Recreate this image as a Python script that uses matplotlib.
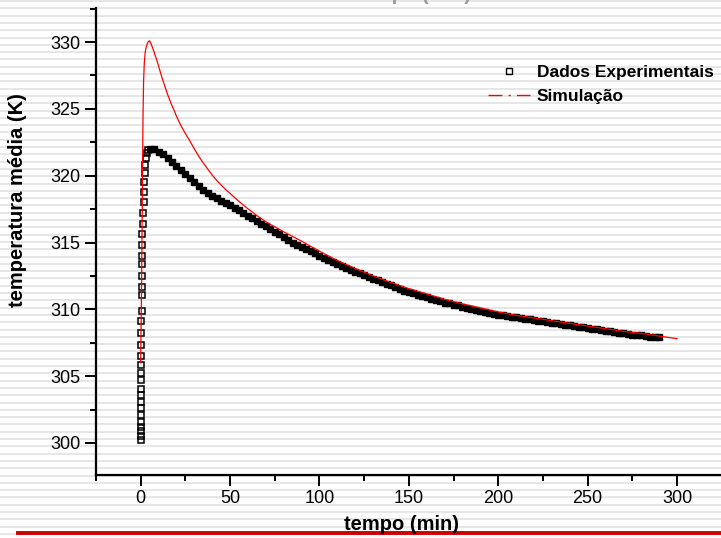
import numpy as np
import matplotlib.pyplot as plt
from matplotlib.lines import Line2D
from matplotlib.ticker import MultipleLocator

plt.rcParams['font.family'] = ['Liberation Sans', 'DejaVu Sans']

# dados experimentais (tempo em min, temperatura em K)
# subida inicial (pontos bem espacados)
t_sub = [0.0, 0.0, 0.0, 0.05, 0.05, 0.1, 0.1, 0.15, 0.15, 0.2,
         0.2, 0.25, 0.3, 0.3, 0.35, 0.4, 0.45, 0.5, 0.55, 0.6,
         0.65, 0.7, 0.8, 0.9, 1.0, 1.2, 1.4, 1.6, 1.8, 2.0,
         2.3, 2.6, 3.0, 3.5, 4.0]
T_sub = [300.2, 300.5, 300.9, 301.2, 301.6, 302.1, 302.6, 303.1, 303.6, 304.0,
         304.7, 305.2, 305.8, 306.5, 307.3, 308.2, 309.1, 309.9, 311.1, 311.7,
         312.5, 313.4, 314.0, 314.8, 315.6, 316.4, 317.2, 318.0, 318.8, 319.5,
         320.2, 320.8, 321.3, 321.7, 321.9]
# resfriamento (pontos densos)
t_res = [5.0, 7.5, 10.0, 12.5, 15.0, 17.5, 20.0, 22.5, 25.0, 27.5,
         30.0, 32.5, 35.0, 37.5, 40.0, 42.5, 45.0, 47.5, 50.0, 52.5,
         55.0, 57.5, 60.0, 62.5, 65.0, 67.5, 70.0, 72.5, 75.0, 77.5,
         80.0, 82.5, 85.0, 87.5, 90.0, 92.5, 95.0, 97.5, 100.0, 102.5,
         105.0, 107.5, 110.0, 112.5, 115.0, 117.5, 120.0, 122.5, 125.0, 127.5,
         130.0, 132.5, 135.0, 137.5, 140.0, 142.5, 145.0, 147.5, 150.0, 152.5,
         155.0, 157.5, 160.0, 162.5, 165.0, 167.5, 170.0, 172.5, 175.0, 177.5,
         180.0, 182.5, 185.0, 187.5, 190.0, 192.5, 195.0, 197.5, 200.0, 202.5,
         205.0, 207.5, 210.0, 212.5, 215.0, 217.5, 220.0, 222.5, 225.0, 227.5,
         230.0, 232.5, 235.0, 237.5, 240.0, 242.5, 245.0, 247.5, 250.0, 252.5,
         255.0, 257.5, 260.0, 262.5, 265.0, 267.5, 270.0, 272.5, 275.0, 277.5,
         280.0, 282.5, 285.0, 287.5, 290.0]
T_res = [322.0, 322.0, 321.8, 321.6, 321.3, 321.0, 320.7, 320.4, 320.1, 319.8,
         319.5, 319.2, 318.9, 318.7, 318.5, 318.3, 318.1, 317.95, 317.8, 317.6,
         317.4, 317.2, 317.0, 316.8, 316.6, 316.4, 316.2, 316.0, 315.8, 315.6,
         315.4, 315.2, 315.0, 314.85, 314.7, 314.55, 314.4, 314.2, 314.0, 313.85,
         313.7, 313.55, 313.4, 313.25, 313.1, 312.95, 312.8, 312.7, 312.55, 312.4,
         312.3, 312.2, 312.05, 311.9, 311.8, 311.7, 311.55, 311.4, 311.3, 311.2,
         311.1, 311.0, 310.9, 310.8, 310.7, 310.6, 310.5, 310.45, 310.35, 310.3,
         310.2, 310.1, 310.05, 309.95, 309.9, 309.8, 309.75, 309.65, 309.6, 309.55,
         309.5, 309.45, 309.4, 309.35, 309.3, 309.25, 309.2, 309.15, 309.1, 309.05,
         309.0, 308.95, 308.9, 308.85, 308.8, 308.75, 308.7, 308.65, 308.6, 308.55,
         308.5, 308.45, 308.4, 308.35, 308.3, 308.25, 308.2, 308.15, 308.1, 308.1,
         308.05, 308.0, 307.95, 307.9, 307.9]

# simulacao
t_sim = [0.0, 0.5, 0.8, 1.0, 1.3, 1.6, 2.0, 2.5, 3.0, 4.0,
         5.0, 6.0, 7.0, 8.0, 9.0, 10.0, 11.0, 12.0, 13.0, 14.0,
         15.0, 16.0, 17.0, 18.0, 19.0, 20.0, 22.5, 25.0, 27.5, 30.0,
         32.5, 35.0, 37.5, 40.0, 42.5, 45.0, 47.5, 50.0, 55.0, 60.0,
         65.0, 70.0, 80.0, 90.0, 100.0, 110.0, 120.0, 130.0, 140.0, 150.0,
         160.0, 170.0, 180.0, 190.0, 200.0, 210.0, 220.0, 230.0, 240.0, 250.0,
         260.0, 270.0, 280.0, 290.0, 300.0]
T_sim = [306.0, 312.0, 316.5, 320.0, 324.5, 327.0, 328.4, 329.2, 329.6, 330.0,
         330.1, 329.8, 329.45, 329.05, 328.65, 328.2, 327.75, 327.3, 326.9, 326.5,
         326.1, 325.75, 325.4, 325.1, 324.8, 324.45, 323.75, 323.15, 322.6, 322.0,
         321.45, 320.95, 320.5, 320.05, 319.65, 319.3, 318.97, 318.67, 318.07, 317.52,
         317.02, 316.55, 315.8, 315.1, 314.35, 313.65, 313.05, 312.5, 312.0, 311.55,
         311.15, 310.75, 310.4, 310.1, 309.8, 309.55, 309.35, 309.15, 308.95, 308.75,
         308.55, 308.35, 308.2, 308.0, 307.8]

x_ticks = [0, 50, 100, 150, 200, 250, 300]
y_ticks = [300, 305, 310, 315, 320, 325, 330]

fig = plt.figure(figsize=(7.21, 5.38), dpi=100)

# fundo listrado do slide
bg = fig.add_axes([0, 0, 1, 1], zorder=-1)
bg.set_xlim(0, 721)
bg.set_ylim(538, 0)
for yy in np.arange(1.0, 538, 7.3):
    bg.axhline(yy, color='#e2e2e2', lw=1.2)
bg.axis('off')

ax = fig.add_axes([96 / 721, 63 / 538, 625 / 721, 467 / 538])
ax.patch.set_alpha(0)

# os quadrados se sobrepoem no resfriamento e formam uma faixa preta
ax.plot(t_sub, T_sub, 's', ms=4.3, mfc='none', mec='black', mew=1.1, zorder=2)
ax.plot(t_res, T_res, 's', ms=4.8, mfc='black', mec='black', mew=1.0, zorder=2)
ax.plot(t_sim, T_sim, '-', color='red', lw=0.9, zorder=3)

ax.set_xlim(-25, 324.6)
ax.set_ylim(297.6, 332.55)
ax.set_xticks(x_ticks)
ax.set_yticks(y_ticks)
ax.xaxis.set_minor_locator(MultipleLocator(25))
ax.yaxis.set_minor_locator(MultipleLocator(2.5))
ax.tick_params(which='major', direction='out', length=8, width=1.4, labelsize=13, pad=3)
ax.tick_params(which='minor', direction='out', length=4.5, width=1.4)
ax.spines['top'].set_visible(False)
ax.spines['right'].set_visible(False)
ax.spines['left'].set_linewidth(1.6)
ax.spines['bottom'].set_linewidth(1.6)

fig.text(402 / 721, 1 - 525 / 538, 'tempo (min)', ha='center', va='center',
         fontsize=14.5, fontweight='bold')
fig.text(18 / 721, 1 - 200 / 538, 'temperatura média (K)', ha='center', va='center',
         rotation=90, fontsize=14.5, fontweight='bold')
# titulo cortado no topo, como no slide original
fig.text(414 / 721, 1.0, 'tempo (min)', ha='center', va='baseline',
         fontsize=14.5, fontweight='bold', color='#9a9a9a')

handles = [Line2D([], [], marker='s', ls='none', ms=4, mfc='none', mec='black', mew=1.0),
           Line2D([], [], color='red', lw=1.0, dashes=(10, 4.5, 1.5, 4.5))]
fig.legend(handles, ['Dados Experimentais', 'Simulação'], loc='upper left',
           bbox_to_anchor=(488 / 721, 1 - 65 / 538), frameon=False, borderpad=0,
           borderaxespad=0, handlelength=2.4, handletextpad=0.4, labelspacing=0.5,
           prop={'size': 12.5, 'weight': 'bold'})

# linha vermelha no rodape
fig.add_artist(Line2D([18 / 721, 1], [1 - 533 / 538, 1 - 533 / 538], color='#cc0000',
                      lw=2.8, transform=fig.transFigure))

fig.savefig('out.png', dpi=100)
